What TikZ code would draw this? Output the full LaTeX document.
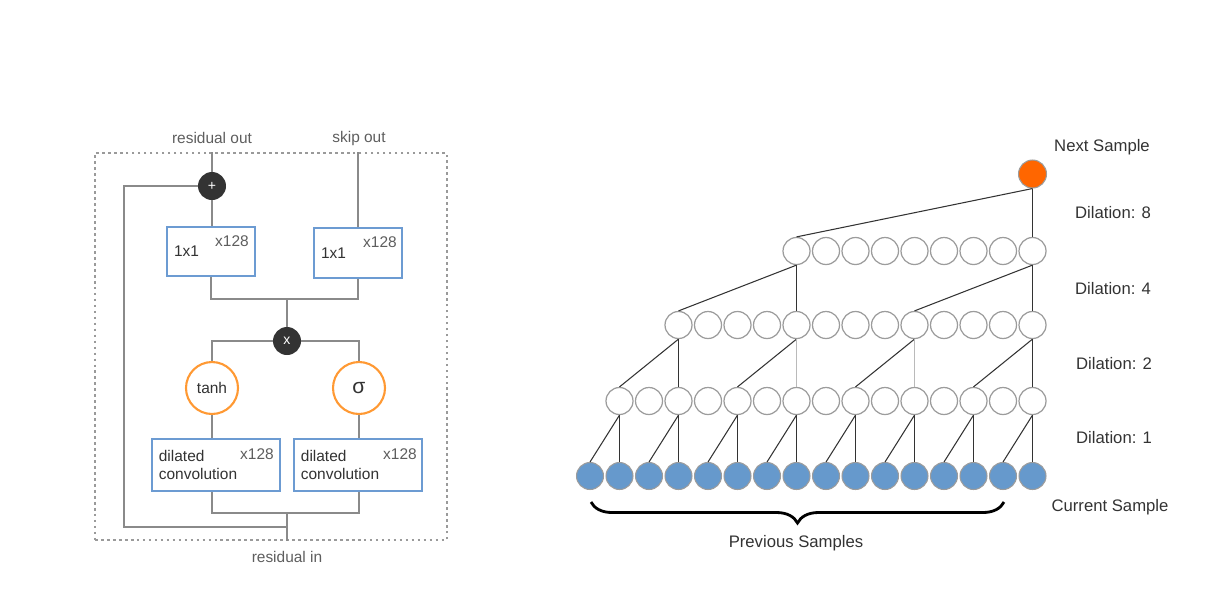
\documentclass[tikz,border=0pt]{standalone}
\usepackage{fontspec}
\setmainfont{Liberation Sans}
\usetikzlibrary{positioning, calc, decorations.pathreplacing}
\definecolor{wnline}{HTML}{8A8A8A}
\definecolor{wnframe}{HTML}{9A9A9A}
\definecolor{wndark}{HTML}{333333}
\definecolor{wntext}{HTML}{5E5E5E}
\definecolor{wnbox}{HTML}{6C9BD2}
\definecolor{wnorange}{HTML}{FF9933}
\definecolor{wnnext}{HTML}{FF6600}
\definecolor{wnblue}{HTML}{6699CC}
\definecolor{wnring}{HTML}{9C9C9C}
\definecolor{wnedge}{HTML}{333333}

\begin{document}
\begin{tikzpicture}[
    x=0.02cm, y=-0.02cm,
    lbl/.style={font=\fontsize{8.8}{10.5}\selectfont, text=wntext},
    txt/.style={font=\fontsize{9.5}{11}\selectfont, text=wndark},
    w/.style={wnline, line width=1pt},
    op/.style={circle, fill=wndark, minimum size=0.56cm, inner sep=0pt, text=white, font=\fontsize{8}{9}\selectfont},
    gate/.style={circle, draw=wnorange, line width=1.2pt, fill=white, minimum size=1.04cm, inner sep=0pt, text=wndark, font=\fontsize{8.8}{10.5}\selectfont},
    conv/.style={draw=wnbox, line width=1pt, fill=white, align=left, inner xsep=4pt, text=wndark, font=\fontsize{8.8}{10.2}\selectfont},
    frame/.style={draw=wnframe, line width=1.5pt, dash pattern=on 1.5pt off 1.9pt},
    smp/.style={circle, draw=wnring, fill=wnblue, minimum size=0.54cm, inner sep=0pt, line width=0.6pt},
    hid/.style={circle, draw=wnring, fill=white, minimum size=0.54cm, inner sep=0pt, line width=0.7pt},
    nxt/.style={circle, draw=wnring, fill=wnnext, minimum size=0.56cm, inner sep=0pt, line width=0.6pt},
    e/.style={wnedge, line width=0.6pt},
    elight/.style={wnring!70, line width=0.6pt},
    brc/.style={black, line width=1.6pt, decorate, decoration={brace, mirror, amplitude=0.42cm}}
  ]
  \useasboundingbox (0,0) rectangle (1226,600);

  % residual block
  \node[frame, minimum width=7.04cm, minimum height=7.74cm] (blk) at (271,346.5) {};
  \node[lbl] (rout) at (212,138) {residual out};
  \node[lbl] (sout) at (359,138) {skip out};
  \node[lbl] (rin) at (287,557) {residual in};

  \node[op] (add) at (212,186) {+};
  \node[conv, text width=42pt, minimum height=0.98cm] (res) at (211,251.5) {1x1};
  \node[conv, text width=42pt, minimum height=1cm] (skp) at (358,253) {1x1};
  \node[lbl] (resn) at (232,241) {x128};
  \node[lbl] (skpn) at (380,242) {x128};

  \node[op] (mul) at (287,341) {x};
  \node[gate] (th) at (212,388) {tanh};
  \node[gate, font=\fontsize{12}{14}\selectfont] (sg) at (359,388) {σ};
  \node[conv, text width=65pt, minimum height=1.04cm] (dl) at (216,465) {dilated\\convolution};
  \node[conv, text width=65pt, minimum height=1.04cm] (dr) at (358,465) {dilated\\convolution};
  \node[lbl] (dln) at (257,454) {x128};
  \node[lbl] (drn) at (400,454) {x128};

  \coordinate (jt) at (287,299);
  \coordinate (jb) at (287,513);
  \coordinate (lp) at (124,527);

  \draw[w] (add) -- (add |- blk.north);
  \draw[w] (add) -- (add |- res.north);
  \draw[w] (skp) -- (skp |- blk.north);
  \draw[w] (add.west) -| (lp) -- (lp -| jb);
  \draw[w] (res.south) |- (jt) -| (skp.south);
  \draw[w] (jt) -- (mul);
  \draw[w] (th) |- (mul);
  \draw[w] (sg) |- (mul);
  \draw[w] (th) -- (th |- dl.north);
  \draw[w] (sg) -- (sg |- dr.north);
  \draw[w] (th |- dl.south) |- (jb) -| (sg |- dr.south);
  \draw[w] (jb) -- (jb |- blk.south);

  % dilated stack
  \foreach \i in {0,...,15}
    \node[smp] (s\i) at ({590+29.5*\i},476) {};
  \foreach \i in {1,...,15}
    \node[hid] (a\i) at ({590+29.5*\i},401) {};
  \foreach \i in {3,...,15}
    \node[hid] (b\i) at ({590+29.5*\i},325) {};
  \foreach \i in {7,...,15}
    \node[hid] (c\i) at ({590+29.5*\i},251) {};
  \node[nxt] (next) at (1032.5,174) {};

  \foreach \i [evaluate=\i as \j using int(\i-1)] in {1,3,...,15} {
    \draw[e] (a\i.south) -- (s\j.north);
    \draw[e] (a\i.south) -- (s\i.north);
  }
  \foreach \i [evaluate=\i as \j using int(\i-2)] in {3,7,11,15}
    \draw[e] (b\i.south) -- (a\j.north);
  \draw[e] (b3.south) -- (a3.north);
  \draw[elight] (b7.south) -- (a7.north);
  \draw[elight] (b11.south) -- (a11.north);
  \draw[e] (b15.south) -- (a15.north);
  \foreach \i [evaluate=\i as \j using int(\i-4)] in {7,15} {
    \draw[e] (c\i.south) -- (b\j.north);
    \draw[e] (c\i.south) -- (b\i.north);
  }
  \draw[e] (next.south) -- (c7.north);
  \draw[e] (next.south) -- (c15.north);

  \node[txt] (lnext) at (1102,147) {Next Sample};
  \node[txt] (ld8) at (1113,213) {Dilation: 8};
  \node[txt] (ld4) at (1113,289) {Dilation: 4};
  \node[txt] (ld2) at (1114,364) {Dilation: 2};
  \node[txt] (ld1) at (1114,438) {Dilation: 1};
  \node[txt] (lcur) at (1110,507) {Current Sample};

  \coordinate (bl) at (591,502);
  \coordinate (br) at (1004,502);
  \draw[brc] (bl) -- (br);
  \node[txt] (lprev) at (796,543) {Previous Samples};
\end{tikzpicture}
\end{document}
